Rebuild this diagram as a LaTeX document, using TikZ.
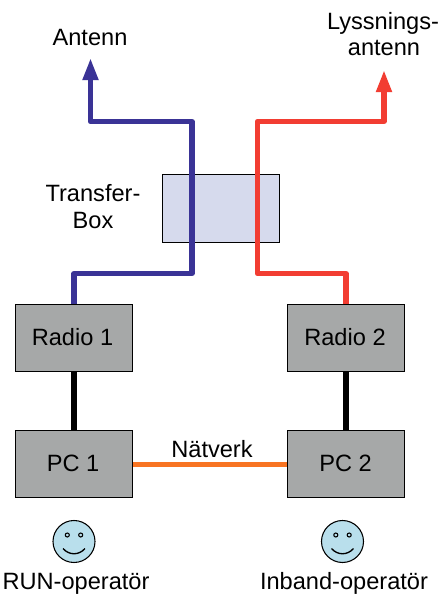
\documentclass[tikz,border=0pt]{standalone}
\usepackage{fontspec}
\setmainfont{Liberation Sans}
\usetikzlibrary{arrows.meta}
\definecolor{boxgray}{HTML}{A6A8A8}
\definecolor{transfer}{HTML}{D6DAED}
\definecolor{bluewire}{HTML}{3A3396}
\definecolor{redwire}{HTML}{F23D32}
\definecolor{orangewire}{HTML}{F87422}
\definecolor{face}{HTML}{B9DFEC}
\tikzset{
  x=0.75pt,y=-0.75pt,
  unit/.style={draw=black,line width=0.7pt,fill=boxgray,minimum width=87.75pt,minimum height=50.6pt,inner sep=0pt,text=black},
  tbox/.style={draw=black,line width=0.6pt,fill=transfer,minimum width=87.75pt,minimum height=51pt,inner sep=0pt},
  lbl/.style={anchor=base,inner sep=0pt,font=\fontsize{17.7pt}{20pt}\selectfont},
  wire/.style={line width=4pt,line join=round},
  antennatip/.style={-{Triangle[length=16.5pt,width=11pt]}},
  facecircle/.style={circle,draw=black,line width=0.8pt,fill=face,minimum size=31.5pt,inner sep=0pt},
  facepart/.style={draw=black,line width=0.8pt},
}
\begin{document}
\begin{tikzpicture}
\useasboundingbox (0,0) rectangle (442,612);
\fill[white] (0,0) rectangle (442,612);
\node[tbox] (tb) at (221,208.5) {};
\node[unit] (r1) at (74,338.2) {};
\node[unit] (r2) at (346,338.2) {};
\node[unit] (p1) at (74,464.2) {};
\node[unit] (p2) at (346,464.2) {};
\node[lbl] (r1t) at (72.5,345) {Radio 1};
\node[lbl] (r2t) at (345,345) {Radio 2};
\node[lbl] (p1t) at (73,471) {PC 1};
\node[lbl] (p2t) at (345.5,471) {PC 2};
\coordinate (ant) at (90.5,58);
\coordinate (lys) at (384,70);
\draw[wire,bluewire,antennatip] (r1.north) |- (192,273.5) -- (192,121.5) -| (ant);
\draw[wire,redwire,antennatip] (r2.north) |- (257.5,273.5) -- (257.5,121.5) -| (lys);
\draw[wire,black] (r1.south) -- (p1.north);
\draw[wire,black] (r2.south) -- (p2.north);
\draw[wire,orangewire] (p1.east) -- (p2.west);
\node[lbl] (a) at (90,45) {Antenn};
\node[lbl] (l1) at (383,29) {Lyssnings-};
\node[lbl] (l2) at (384,55.7) {antenn};
\node[lbl] (t1) at (93,201.7) {Transfer-};
\node[lbl] (t2) at (93,228) {Box};
\node[lbl] (n) at (212,457) {Nätverk};
\node[lbl] (o1) at (76,589.3) {RUN-operatör};
\node[lbl] (o2) at (344,589.3) {Inband-operatör};
\node[facecircle] (f1) at (74,541.5) {};
\node[facecircle] (f2) at (342.5,541.5) {};
\foreach \f in {f1,f2}{
  \draw[facepart] (\f.center) ++(-6.7,-6.5) circle[radius=2];
  \draw[facepart] (\f.center) ++(6.7,-6.5) circle[radius=2];
  \draw[facepart,line width=1pt] (\f.center) ++(-11,7) .. controls +(6,7) and +(-6,7) .. +(22,0);
}
\end{tikzpicture}
\end{document}
